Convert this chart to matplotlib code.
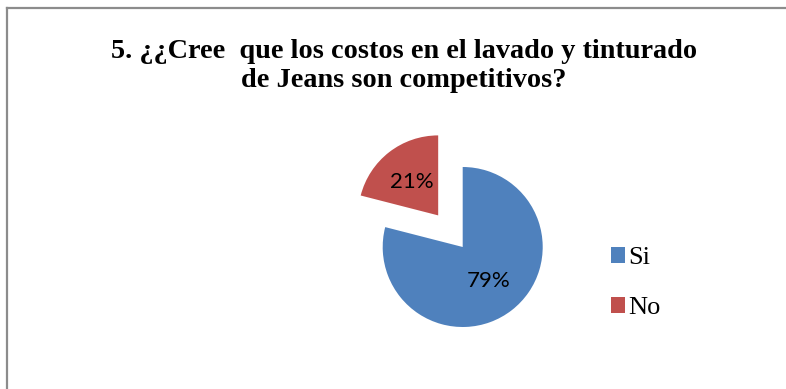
import matplotlib
matplotlib.use("Agg")
import matplotlib.pyplot as plt
from matplotlib.lines import Line2D
from matplotlib.patches import Patch

# Survey answers for question 5
categories = ["Si", "No"]
shares = [79, 21]
colors = ["#4F81BD", "#C0504D"]
title = "5. ¿¿Cree  que los costos en el lavado y tinturado\nde Jeans son competitivos?"

W, H = 786, 389
fig = plt.figure(figsize=(W / 100, H / 100), dpi=100)
fig.patch.set_facecolor("white")

# chart border (top and left edges visible)
frame_kw = dict(color="#8c8c8c", linewidth=1.6, transform=fig.transFigure)
fig.add_artist(Line2D([7 / W, 1.01], [1 - 8 / H, 1 - 8 / H], **frame_kw))
fig.add_artist(Line2D([7 / W, 7 / W], [1 - 8 / H, -0.01], **frame_kw))

fig.text(404 / W, 1 - 66 / H, title, ha="center", va="center",
         family="Liberation Serif", fontweight="bold", fontsize=20.3,
         linespacing=1.2)

# pie axes: radius 1 maps to 80 px
cx, cy, r = 462.7, 389 - 247, 80
span = 1.5
ax = fig.add_axes([(cx - r * span) / W, (cy - r * span) / H,
                   2 * r * span / W, 2 * r * span / H])

wedges, texts, autotexts = ax.pie(
    shares, colors=colors, startangle=90, counterclock=False,
    explode=[0, 0.5], autopct="%d%%", pctdistance=0.53,
    wedgeprops=dict(linewidth=0),
    textprops=dict(family="Lato", fontsize=16, color="black"))
ax.set_xlim(-span, span)
ax.set_ylim(-span, span)
ax.set_aspect("equal")
ax.axis("off")
for w in wedges:
    w.set_clip_on(False)

handles = [Patch(facecolor=c, edgecolor="none") for c in colors]
fig.legend(handles, categories, loc="center left",
           bbox_to_anchor=(587 / W, 1 - 283 / H), frameon=False,
           handlelength=0.55, handleheight=0.55, handletextpad=0.12,
           labelspacing=1.05,
           prop=dict(family="Liberation Serif", size=19))

fig.savefig("out.png", dpi=100, facecolor="white")
